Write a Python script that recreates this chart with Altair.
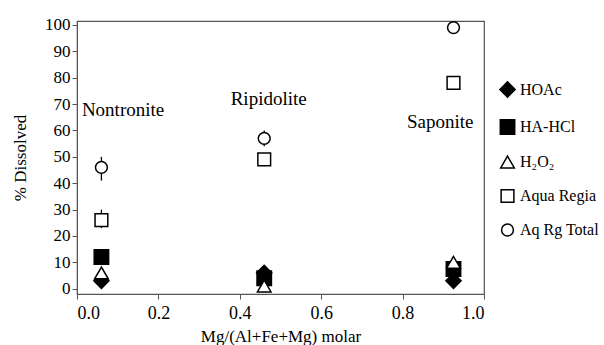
import altair as alt
import pandas as pd

series = ["HOAc", "HA-HCl", "H₂O₂", "Aqua Regia", "Aq Rg Total"]
minerals = ["Nontronite", "Ripidolite", "Saponite"]
mg_ratio = [0.06, 0.46, 0.925]
values = {
    "HOAc": [3, 6, 3],
    "HA-HCl": [12, 4, 7.5],
    "H₂O₂": [6, 1, 10],
    "Aqua Regia": [26, 49, 78],
    "Aq Rg Total": [46, 57, 99],
}
err_series = ["Aqua Regia", "Aqua Regia", "Aq Rg Total", "Aq Rg Total"]
err_x = [0.06, 0.46, 0.06, 0.46]
err_lo = [23, 48, 41, 54]
err_hi = [30, 50, 50, 60]
label_x = [0.012, 0.471, 0.974]
label_y = [67.8, 71.8, 63.3]
label_align = ["left", "center", "right"]

rows = []
for s in series:
    for m, x, v in zip(minerals, mg_ratio, values[s]):
        rows.append({"series": s, "mineral": m, "x": x, "y": v})
df = pd.DataFrame(rows)
err = pd.DataFrame({"series": err_series, "x": err_x, "lo": err_lo, "hi": err_hi})
labels = pd.DataFrame({"name": minerals, "x": label_x, "y": label_y, "align": label_align})

FONT = "Times New Roman, Liberation Serif, serif"
xs = alt.Scale(domain=[0, 1], nice=False)
ys = alt.Scale(domain=[-2, 101.5], nice=False, zero=False)

shape_scale = alt.Scale(domain=series, range=["diamond", "square", "triangle-up", "square", "circle"])
fill_scale = alt.Scale(domain=series, range=["black", "black", "white", "white", "white"])
stroke_scale = alt.Scale(domain=series, range=["black"] * 5)
size_scale = alt.Scale(domain=series, range=[230, 140, 180, 260, 190])

xaxis = alt.Axis(values=[0, 0.2, 0.4, 0.6, 0.8, 1.0], format=".1f", title="Mg/(Al+Fe+Mg) molar",
                 grid=False, labelFont=FONT, titleFont=FONT, labelFontSize=18, titleFontSize=17,
                 titleFontWeight="normal", labelColor="black", titleColor="black",
                 domainColor="#555", tickColor="#555", tickSize=5, labelPadding=5, titlePadding=6)
yaxis = alt.Axis(values=list(range(0, 101, 10)), title="% Dissolved", grid=False,
                 labelFont=FONT, titleFont=FONT, labelFontSize=17, titleFontSize=17,
                 titleFontWeight="normal", labelColor="black", titleColor="black",
                 domainColor="#555", tickColor="#555", tickSize=5, labelPadding=2, titlePadding=15)

errbars = alt.Chart(err).mark_rule(color="black", strokeWidth=1.3).encode(
    x=alt.X("x:Q", scale=xs, axis=xaxis),
    y=alt.Y("lo:Q", scale=ys, axis=yaxis),
    y2="hi:Q",
)

points = alt.Chart(df).mark_point(filled=False, strokeWidth=1.5, opacity=1).encode(
    x=alt.X("x:Q", scale=xs, axis=xaxis),
    y=alt.Y("y:Q", scale=ys, axis=yaxis),
    shape=alt.Shape("series:N", scale=shape_scale, sort=series, title=None),
    fill=alt.Fill("series:N", scale=fill_scale, sort=series, title=None),
    stroke=alt.Stroke("series:N", scale=stroke_scale, sort=series, title=None),
    size=alt.Size("series:N", scale=size_scale, sort=series, title=None),
)

texts = []
for al in ["left", "center", "right"]:
    texts.append(
        alt.Chart(labels).transform_filter(alt.datum.align == al)
        .mark_text(font=FONT, fontSize=19, color="black", baseline="middle", align=al)
        .encode(
            x=alt.X("x:Q", scale=xs, axis=xaxis),
            y=alt.Y("y:Q", scale=ys, axis=yaxis),
            text="name:N",
        )
    )

chart = alt.layer(errbars, points, *texts).properties(
    width=407, height=273,
    autosize=alt.AutoSizeParams(type="none"),
    padding={"left": 77, "top": 21, "right": 120, "bottom": 51},
).configure_view(stroke="#555", strokeWidth=1.2).configure_legend(
    orient="none", legendX=422, legendY=60, labelFont=FONT, labelFontSize=16,
    labelColor="black", rowPadding=15, symbolStrokeWidth=1.5,
    labelOffset=4,
)

chart.save("out.html", embed_options={"renderer": "svg", "actions": False})
